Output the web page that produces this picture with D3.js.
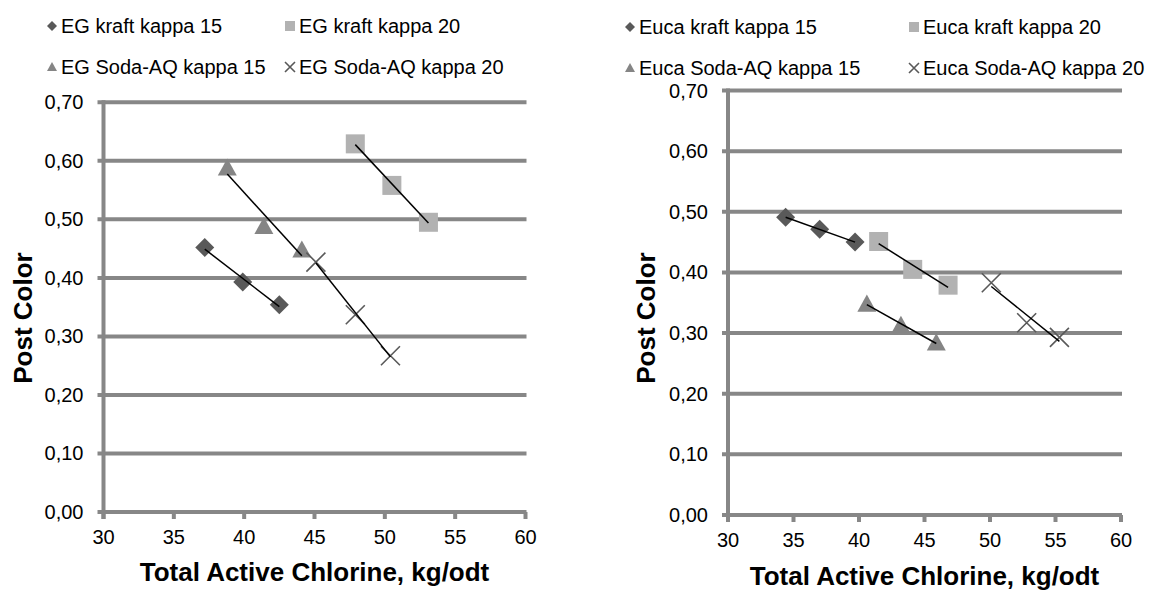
<!DOCTYPE html>
<html>
<head>
<meta charset="utf-8">
<script src="https://cdn.jsdelivr.net/npm/d3@7"></script>
<style>
  html, body { margin: 0; padding: 0; background: #fff; }
  svg { display: block; font-family: "Liberation Sans", Arial, sans-serif; }
</style>
</head>
<body>
<div id="chart"></div>
<script>
// Post colour vs total active chlorine, two panels

// Axis ticks
var xTicks = [30, 35, 40, 45, 50, 55, 60];
var yTicks = [0, 0.1, 0.2, 0.3, 0.4, 0.5, 0.6, 0.7];

// Left panel (EG)
var egNames = ["EG kraft kappa 15", "EG kraft kappa 20", "EG Soda-AQ kappa 15", "EG Soda-AQ kappa 20"];
var egKraft15X = [37.2, 39.9, 42.5];
var egKraft15Y = [0.452, 0.393, 0.354];
var egKraft20X = [47.9, 50.5, 53.1];
var egKraft20Y = [0.629, 0.558, 0.495];
var egSoda15X = [38.8, 41.4, 44.1];
var egSoda15Y = [0.588, 0.488, 0.448];
var egSoda20X = [45.1, 47.9, 50.4];
var egSoda20Y = [0.427, 0.337, 0.267];

// Right panel (Euca)
var eucaNames = ["Euca kraft kappa 15", "Euca kraft kappa 20", "Euca Soda-AQ kappa 15", "Euca Soda-AQ kappa 20"];
var eucaKraft15X = [34.4, 37.0, 39.7];
var eucaKraft15Y = [0.491, 0.471, 0.450];
var eucaKraft20X = [41.5, 44.1, 46.8];
var eucaKraft20Y = [0.451, 0.405, 0.379];
var eucaSoda15X = [40.6, 43.2, 45.9];
var eucaSoda15Y = [0.348, 0.313, 0.284];
var eucaSoda20X = [50.1, 52.8, 55.3];
var eucaSoda20Y = [0.383, 0.317, 0.293];

var width = 1167, height = 590;
var gridColor = "#878787";
var markerStyle = [
    { shape: "diamond", fill: "#595959" },
    { shape: "square", fill: "#b2b2b2" },
    { shape: "triangle", fill: "#858585" },
    { shape: "cross", fill: "#595959" }
];

var fmt = d3.formatLocale({ decimal: ",", thousands: ".", grouping: [3], currency: ["", ""] }).format(".2f");

var svg = d3.select("#chart").append("svg")
    .attr("width", width)
    .attr("height", height);

function zip(xs, ys) {
    return xs.map(function(x, i) { return { x: x, y: ys[i] }; });
}

// draw one marker at (cx, cy)
function drawMarker(g, shape, fill, cx, cy, s) {
    if (shape === "diamond") {
        g.append("path")
            .attr("d", d3.symbol().type(d3.symbolSquare).size(s * s * 0.5)())
            .attr("transform", "translate(" + cx + "," + cy + ") rotate(45)")
            .attr("fill", fill);
    } else if (shape === "square") {
        g.append("rect")
            .attr("x", cx - s / 2).attr("y", cy - s / 2)
            .attr("width", s).attr("height", s)
            .attr("fill", fill);
    } else if (shape === "triangle") {
        var h = s * 0.9;
        g.append("path")
            .attr("d", "M" + cx + "," + (cy - h * 0.55) + "L" + (cx + s / 2) + "," + (cy + h * 0.45) +
                "L" + (cx - s / 2) + "," + (cy + h * 0.45) + "Z")
            .attr("fill", fill);
    } else {
        var r = s / 2;
        g.append("path")
            .attr("d", "M" + (cx - r) + "," + (cy - r) + "L" + (cx + r) + "," + (cy + r) +
                "M" + (cx - r) + "," + (cy + r) + "L" + (cx + r) + "," + (cy - r))
            .attr("stroke", fill)
            .attr("stroke-width", 1.6)
            .attr("fill", "none");
    }
}

function drawPanel(p) {
    var x = d3.scaleLinear().domain([30, 60]).range([p.left, p.right]);
    var y = d3.scaleLinear().domain([0, 0.7]).range([p.bottom, p.top]);
    var g = svg.append("g");

    // gridlines with left ticks
    g.selectAll(".grid").data(yTicks).enter().append("line")
        .attr("x1", p.left - 6).attr("x2", p.right + 1)
        .attr("y1", function(d) { return y(d); })
        .attr("y2", function(d) { return y(d); })
        .attr("stroke", gridColor).attr("stroke-width", 4);

    // y axis line
    g.append("line")
        .attr("x1", p.left).attr("x2", p.left)
        .attr("y1", y(0.7) - 2).attr("y2", y(0) + 7)
        .attr("stroke", gridColor).attr("stroke-width", 4);

    // x ticks
    g.selectAll(".xt").data(xTicks).enter().append("line")
        .attr("x1", function(d) { return x(d); })
        .attr("x2", function(d) { return x(d); })
        .attr("y1", y(0)).attr("y2", y(0) + 7)
        .attr("stroke", gridColor).attr("stroke-width", 4);

    // tick labels
    g.selectAll(".yl").data(yTicks).enter().append("text")
        .attr("x", p.left - 20)
        .attr("y", function(d) { return y(d); })
        .attr("dy", "0.35em")
        .attr("text-anchor", "end")
        .attr("font-size", 20)
        .text(function(d) { return fmt(d); });

    g.selectAll(".xl").data(xTicks).enter().append("text")
        .attr("x", function(d) { return x(d); })
        .attr("y", p.bottom + 25)
        .attr("dy", "0.35em")
        .attr("text-anchor", "middle")
        .attr("font-size", 20)
        .text(function(d) { return d; });

    // axis titles
    g.append("text")
        .attr("x", (p.left + p.right) / 2)
        .attr("y", p.xTitleY)
        .attr("dy", "0.35em")
        .attr("text-anchor", "middle")
        .attr("font-size", 26)
        .attr("font-weight", "bold")
        .text("Total Active Chlorine, kg/odt");

    g.append("text")
        .attr("transform", "translate(" + p.yTitleX + "," + p.yTitleY + ") rotate(-90)")
        .attr("dy", "0.35em")
        .attr("text-anchor", "middle")
        .attr("font-size", 26)
        .attr("font-weight", "bold")
        .text("Post Color");

    // series: markers and linear trendlines
    p.series.forEach(function(pts, i) {
        var st = markerStyle[i];
        pts.forEach(function(d) {
            drawMarker(g, st.shape, st.fill, x(d.x), y(d.y), st.shape === "cross" ? 19 : 19);
        });
    });
    p.series.forEach(function(pts) {
        var n = pts.length;
        var mx = d3.mean(pts, function(d) { return d.x; });
        var my = d3.mean(pts, function(d) { return d.y; });
        var sxy = d3.sum(pts, function(d) { return (d.x - mx) * (d.y - my); });
        var sxx = d3.sum(pts, function(d) { return (d.x - mx) * (d.x - mx); });
        var b = sxy / sxx, a = my - b * mx;
        var x0 = d3.min(pts, function(d) { return d.x; });
        var x1 = d3.max(pts, function(d) { return d.x; });
        g.append("line")
            .attr("x1", x(x0)).attr("y1", y(a + b * x0))
            .attr("x2", x(x1)).attr("y2", y(a + b * x1))
            .attr("stroke", "#000").attr("stroke-width", 1.5);
    });

    // legend
    p.names.forEach(function(name, i) {
        var col = i % 2, row = Math.floor(i / 2);
        var lx = p.legendX[col], ly = p.legendY[row];
        var st = markerStyle[i];
        drawMarker(g, st.shape, st.fill, lx, ly, 10);
        g.append("text")
            .attr("x", lx + 9)
            .attr("y", ly)
            .attr("dy", "0.35em")
            .attr("font-size", 20)
            .text(name);
    });
}

drawPanel({
    left: 103.5, right: 525.5, top: 102.3, bottom: 512,
    xTitleY: 572, yTitleX: 23, yTitleY: 318,
    legendX: [52, 290], legendY: [26, 67],
    names: egNames,
    series: [zip(egKraft15X, egKraft15Y), zip(egKraft20X, egKraft20Y),
             zip(egSoda15X, egSoda15Y), zip(egSoda20X, egSoda20Y)]
});

drawPanel({
    left: 728, right: 1121, top: 90.5, bottom: 515,
    xTitleY: 576, yTitleX: 646, yTitleY: 318,
    legendX: [630, 914], legendY: [27, 68],
    names: eucaNames,
    series: [zip(eucaKraft15X, eucaKraft15Y), zip(eucaKraft20X, eucaKraft20Y),
             zip(eucaSoda15X, eucaSoda15Y), zip(eucaSoda20X, eucaSoda20Y)]
});
</script>
</body>
</html>
